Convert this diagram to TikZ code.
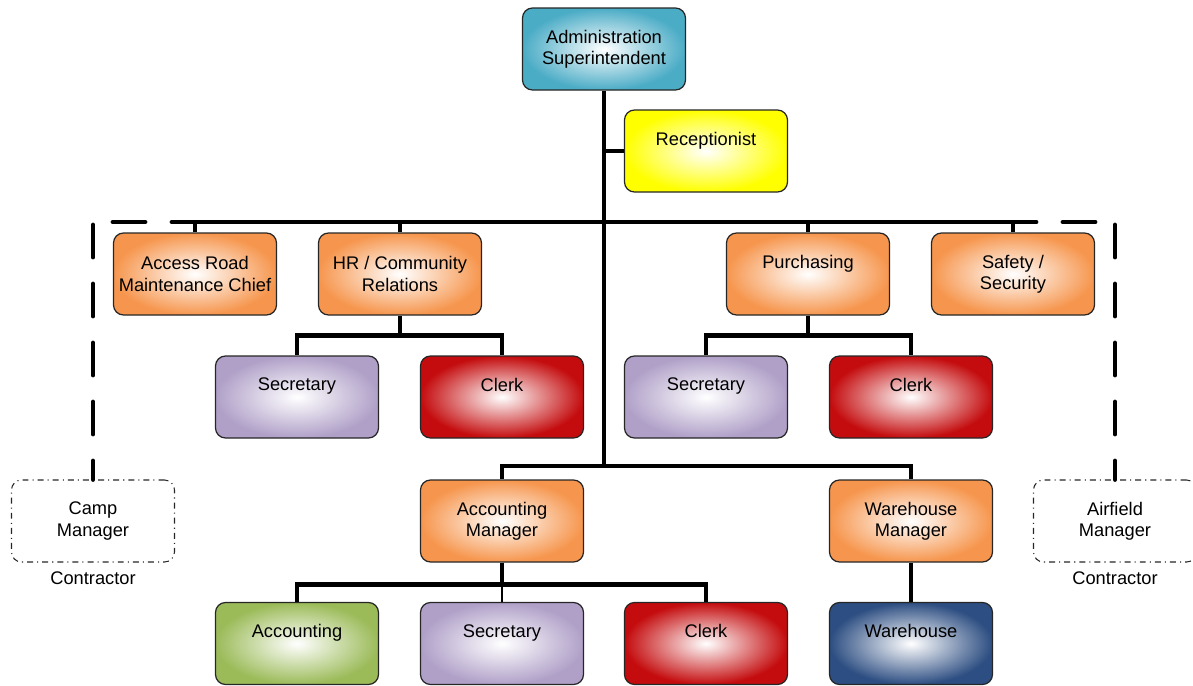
\documentclass[tikz,border=0pt]{standalone}
\usepackage{fontspec}
\setmainfont{Liberation Sans}
\usetikzlibrary{positioning}
\definecolor{headblue}{RGB}{75,172,198}
\definecolor{frontyellow}{RGB}{255,255,0}
\definecolor{deptorange}{RGB}{246,150,78}
\definecolor{staffpurple}{RGB}{176,160,200}
\definecolor{clerkred}{RGB}{196,12,14}
\definecolor{acctgreen}{RGB}{155,187,89}
\definecolor{storenavy}{RGB}{45,78,130}

\begin{document}
\begin{tikzpicture}[every node/.style={font=\fontsize{10.4}{12}\selectfont},
                    post/.style={draw=black!85,line width=0.7pt,rounded corners=0.2cm,
                      minimum width=3.26cm,minimum height=1.64cm,align=center,inner sep=0pt,
                      inner color=white,outer color=#1},
                    oneline/.style={text depth=0.5cm},
                    outpost/.style={draw=black!85,line width=0.6pt,rounded corners=0.2cm,
                      dash pattern=on 3.4pt off 2.3pt on 0.6pt off 2.3pt,
                      minimum width=3.26cm,minimum height=1.64cm,align=center,inner sep=0pt},
                    link/.style={line width=2.8pt},
                    thinlink/.style={line width=0.6pt},
                    outsidelink/.style={line width=2.8pt,line cap=round,
                      dash pattern=on 0.64cm off 0.54cm}]
  \useasboundingbox (0,0) rectangle (23.86,-13.7);

  % --- head and front desk -------------------------------------------------
  \node[post=headblue] (admin) at (12.08,-0.98) {Administration\\Superintendent};
  \node[post=frontyellow,oneline] (recep) at (14.12,-3.02) {Receptionist};

  % --- departments -----------------------------------------------------------
  \node[post=deptorange] (road) at (3.9,-5.48) {Access Road\\Maintenance Chief};
  \node[post=deptorange] (hr) at (8.0,-5.48) {HR / Community\\Relations};
  \node[post=deptorange,oneline] (purch) at (16.16,-5.48) {Purchasing};
  \node[post=deptorange] (safety) at (20.26,-5.48) {Safety /\\Security};

  \node[post=staffpurple,oneline] (hrsec) at (5.94,-7.94) {Secretary};
  \node[post=clerkred,oneline] (hrclerk) at (10.04,-7.94) {Clerk};
  \node[post=staffpurple,oneline] (pusec) at (14.12,-7.94) {Secretary};
  \node[post=clerkred,oneline] (puclerk) at (18.22,-7.94) {Clerk};

  % --- managers and contractors ---------------------------------------------
  \node[outpost] (camp) at (1.86,-10.42) {Camp\\Manager};
  \node[below=0.06cm of camp] (campnote) {Contractor};
  \node[post=deptorange] (acctmgr) at (10.04,-10.42) {Accounting\\Manager};
  \node[post=deptorange] (whmgr) at (18.22,-10.42) {Warehouse\\Manager};
  \node[outpost] (airfield) at (22.3,-10.42) {Airfield\\Manager};
  \node[below=0.06cm of airfield] (airnote) {Contractor};

  \node[post=acctgreen,oneline] (acct) at (5.94,-12.87) {Accounting};
  \node[post=staffpurple,oneline] (acsec) at (10.04,-12.87) {Secretary};
  \node[post=clerkred,oneline] (acclerk) at (14.12,-12.87) {Clerk};
  \node[post=storenavy,oneline] (store) at (18.22,-12.87) {Warehouse};

  % --- connectors ------------------------------------------------------------
  \coordinate (trunk) at (12.08,-9.32);
  \coordinate (busL) at (3.44,-4.44);
  \coordinate (busR) at (20.66,-4.44);
  \coordinate (cornerL) at (1.86,-4.44);
  \coordinate (cornerR) at (22.3,-4.44);

  \draw[link] (admin.south) -- (trunk);
  \draw[link] (admin.south |- recep.west) -- (recep.west);
  \draw[link] (busL) -- (busR);
  \foreach \n in {road,hr,purch,safety}
    \draw[link] (\n.north) -- (\n.north |- busL);

  \draw[link] (hr.south) -- ++(0,-0.4) -| (hrsec.north);
  \draw[link] (hr.south) -- ++(0,-0.4) -| (hrclerk.north);
  \draw[link] (purch.south) -- ++(0,-0.4) -| (pusec.north);
  \draw[link] (purch.south) -- ++(0,-0.4) -| (puclerk.north);

  \draw[link] (trunk) -| (acctmgr.north);
  \draw[link] (trunk) -| (whmgr.north);

  \draw[link] (acctmgr.south) -- ++(0,-0.44) -| (acct.north);
  \draw[link] (acctmgr.south) -- ++(0,-0.44) -| (acclerk.north);
  \draw[thinlink] (acctmgr.south) -- (acsec.north);
  \draw[link] (whmgr.south) -- (store.north);

  % contracted posts hang off the dashed ends
  \draw[outsidelink] ([xshift=0.4cm]cornerL) -- (busL);
  \draw[outsidelink] ([xshift=-0.4cm]cornerR) -- (busR);
  \draw[outsidelink] ([yshift=-0.06cm]cornerL) -- (camp.north);
  \draw[outsidelink] ([yshift=-0.06cm]cornerR) -- (airfield.north);
\end{tikzpicture}
\end{document}
